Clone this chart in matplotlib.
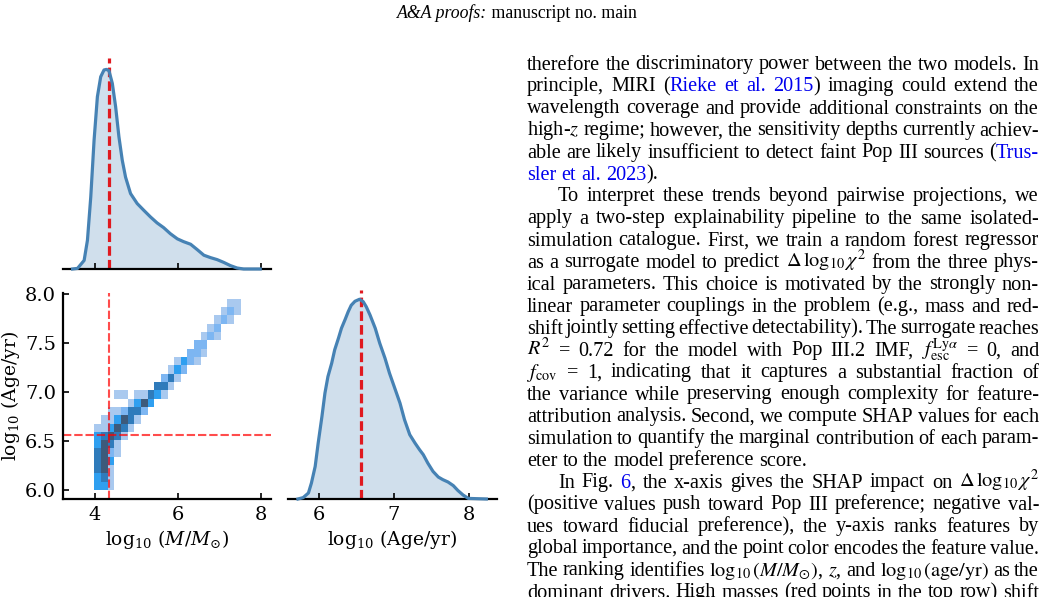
import matplotlib as mpl
import matplotlib.pyplot as plt
import numpy as np
from matplotlib.colors import ListedColormap, BoundaryNorm

plt.rcParams['font.family'] = 'DejaVu Serif'
plt.rcParams['mathtext.fontset'] = 'dejavuserif'

W, H = 1047, 597

# marginal KDE of log10(M/Msun), peak normalised
mass_x = [3.46, 3.58, 3.74, 3.82, 3.90, 3.98, 4.06, 4.14, 4.22, 4.28, 4.34, 4.42,
          4.50, 4.58, 4.66, 4.74, 4.86, 5.02, 5.18, 5.34, 5.50, 5.66, 5.82, 5.99,
          6.14, 6.31, 6.47, 6.63, 6.79, 6.95, 7.11, 7.27, 7.43, 7.59, 7.99]
mass_kde = [0.0, 0.003, 0.043, 0.144, 0.361, 0.645, 0.863, 0.963, 0.997, 1.0, 0.993, 0.930,
            0.813, 0.662, 0.545, 0.46, 0.378, 0.328, 0.294, 0.261, 0.231, 0.207, 0.177, 0.151,
            0.137, 0.124, 0.097, 0.069, 0.057, 0.047, 0.033, 0.017, 0.005, 0.0, 0.0]

# marginal KDE of log10(Age/yr)
age_x = [5.72, 5.79, 5.86, 5.90, 5.95, 5.99, 6.04, 6.08, 6.12, 6.17, 6.21, 6.26, 6.30, 6.35,
         6.39, 6.43, 6.48, 6.54, 6.59, 6.63, 6.68, 6.75, 6.81, 6.88, 6.94, 7.01, 7.08, 7.14,
         7.21, 7.28, 7.34, 7.39, 7.45, 7.52, 7.59, 7.65, 7.72, 7.79, 7.85, 7.92, 7.99, 8.23]
age_kde = [0.0, 0.007, 0.030, 0.080, 0.163, 0.280, 0.413, 0.530, 0.613, 0.680, 0.747, 0.805,
           0.855, 0.900, 0.938, 0.970, 0.990, 1.0, 0.988, 0.963, 0.922, 0.855, 0.780, 0.705,
           0.630, 0.555, 0.480, 0.397, 0.322, 0.280, 0.247, 0.222, 0.180, 0.138, 0.110, 0.097,
           0.085, 0.067, 0.043, 0.020, 0.003, 0.0]

mass_best = 4.33
age_best = 6.56

# 2D histogram, counts level per cell (rows top -> bottom, 22 mass bins)
mass_edges = np.linspace(3.99, 7.515, 23)
age_edges = np.linspace(6.0, 7.95, 24)
hist_rows = [
    "0000000000000000000011",
    "0000000000000000000121",
    "0000000000000000001210",
    "0000000000000000012000",
    "0000000000000000121000",
    "0000000000000002200000",
    "0000000000000022100000",
    "0000000000001321000000",
    "0000000000013200000000",
    "0000000000241000000000",
    "0000000004410000000000",
    "0001101143100000000000",
    "0000013530000000000000",
    "0011244200000000000000",
    "0113541000000000000000",
    "1135410000000000000000",
    "3454100000000000000000",
    "3541000000000000000000",
    "4521000000000000000000",
    "4530000000000000000000",
    "4510000000000000000000",
    "3410000000000000000000",
    "3310000000000000000000",
]
hist_colors = ['#a9c9ef', '#7db6f2', '#2f9ff0', '#2f7bbb', '#3d5a7b']

header_italic = "A&A proofs:"
header_plain = " manuscript no. main"

# body text, [..] marks linked (blue) text
body_lines = [
    "therefore the discriminatory power between the two models. In",
    "principle, MIRI ([Rieke et al. 2015]) imaging could extend the",
    "wavelength coverage and provide additional constraints on the",
    "high-$z$ regime; however, the sensitivity depths currently achiev-",
    "able are likely insufficient to detect faint Pop III sources ([Trus-",
    "sler et al. 2023]).",
    "To interpret these trends beyond pairwise projections, we",
    "apply a two-step explainability pipeline to the same isolated-",
    "simulation catalogue. First, we train a random forest regressor",
    r"as a surrogate model to predict $\Delta\,\log_{10}\chi^2$ from the three phys-",
    "ical parameters. This choice is motivated by the strongly non-",
    "linear parameter couplings in the problem (e.g., mass and red-",
    "shift jointly setting effective detectability). The surrogate reaches",
    r"$R^2$ = 0.72 for the model with Pop III.2 IMF, $f_{\mathrm{esc}}^{\mathrm{Ly}\alpha}$ = 0, and",
    r"$f_{\mathrm{cov}}$ = 1, indicating that it captures a substantial fraction of",
    "the variance while preserving enough complexity for feature-",
    "attribution analysis. Second, we compute SHAP values for each",
    "simulation to quantify the marginal contribution of each param-",
    "eter to the model preference score.",
    r"In Fig. [6], the x-axis gives the SHAP impact on $\Delta\,\log_{10}\chi^2$",
    "(positive values push toward Pop III preference; negative val-",
    "ues toward fiducial preference), the y-axis ranks features by",
    "global importance, and the point color encodes the feature value.",
    r"The ranking identifies $\log_{10}(M/M_{\odot})$, $z$, and $\log_{10}(\mathrm{age/yr})$ as the",
    "dominant drivers. High masses (red points in the top row) shift",
]
para_end = [5, 18]
para_start = [6, 19]

fig = plt.figure(figsize=(W / 100, H / 100), dpi=100)


def px_axes(l, t, r, b):
    return fig.add_axes([l / W, 1 - b / H, (r - l) / W, (b - t) / H])


kde_col = '#4682b4'
tick_kw = dict(direction='in', length=4, width=1.2, labelsize=14, pad=5)

# top marginal (mass)
ax_top = px_axes(63, 58, 271, 269)
ax_top.fill_between(mass_x, mass_kde, color=kde_col, alpha=0.25, lw=0)
ax_top.plot(mass_x, mass_kde, color=kde_col, lw=2.3, zorder=3, clip_on=False)
ax_top.axvline(mass_best, color='#e0191f', lw=2.3, ls=(0, (3, 1.3)))
ax_top.set_xlim(3.23, 8.25)
ax_top.set_ylim(0, 1.057)
ax_top.set_xticks([4, 6, 8])
ax_top.set_yticks([])
ax_top.tick_params(axis='x', labelbottom=False, **tick_kw)

# joint 2D histogram
ax_joint = px_axes(63, 293, 271, 499)
counts = np.array([[int(c) for c in row] for row in hist_rows[::-1]], dtype=float)
counts = np.ma.masked_equal(counts, 0)
cmap = ListedColormap(hist_colors)
norm = BoundaryNorm([0.5, 1.5, 2.5, 3.5, 4.5, 5.5], cmap.N)
ax_joint.pcolormesh(mass_edges, age_edges, counts, cmap=cmap, norm=norm)
ax_joint.axvline(mass_best, color='red', alpha=0.7, lw=1.5, ls=(0, (4, 1.4)))
ax_joint.axhline(age_best, color='red', alpha=0.7, lw=1.5, ls=(0, (4, 1.4)))
ax_joint.set_xlim(3.23, 8.25)
ax_joint.set_ylim(5.908, 8.01)
ax_joint.set_xticks([4, 6, 8])
ax_joint.set_yticks([6.0, 6.5, 7.0, 7.5, 8.0])
ax_joint.set_yticklabels(['6.0', '6.5', '7.0', '7.5', '8.0'])
ax_joint.tick_params(**tick_kw)
ax_joint.set_xlabel(r'$\log_{10}\,(M/M_{\odot})$', fontsize=13.5, labelpad=3)
ax_joint.set_ylabel(r'$\log_{10}\,(\mathrm{Age/yr})$', fontsize=13.5, labelpad=2)

# right marginal (age)
ax_age = px_axes(288, 290, 497, 499)
ax_age.fill_between(age_x, age_kde, color=kde_col, alpha=0.25, lw=0)
ax_age.plot(age_x, age_kde, color=kde_col, lw=2.3, zorder=3, clip_on=False)
ax_age.axvline(age_best, color='#e0191f', lw=2.3, ls=(0, (3, 1.3)))
ax_age.set_xlim(5.588, 8.372)
ax_age.set_ylim(0, 1.0465)
ax_age.set_xticks([6, 7, 8])
ax_age.set_yticks([])
ax_age.tick_params(axis='x', **tick_kw)
ax_age.set_xlabel(r'$\log_{10}\,(\mathrm{Age/yr})$', fontsize=13.5, labelpad=3)

for ax in (ax_top, ax_age):
    for s in ('left', 'right', 'top'):
        ax.spines[s].set_visible(False)
    ax.spines['bottom'].set_linewidth(1.6)
for s in ('right', 'top'):
    ax_joint.spines[s].set_visible(False)
for s in ('left', 'bottom'):
    ax_joint.spines[s].set_linewidth(1.6)

# ---- page text ----
renderer = fig.canvas.get_renderer()
FS = 14.6
BODY = dict(fontsize=FS, family='Liberation Serif', math_fontfamily='stix',
            va='baseline', ha='left')
LINK = '#0000ee'


def put(x, y, s, color='black', **kw):
    opts = dict(BODY)
    opts.update(kw)
    t = fig.text(x / W, 1 - y / H, s, color=color, **opts)
    return t, t.get_window_extent(renderer).width


def parse(line, blue):
    words = []
    for raw in line.split(' '):
        frags, cur = [], ''
        for ch in raw:
            if ch in '[]':
                if cur:
                    frags.append((cur, blue))
                cur = ''
                blue = ch == '['
            else:
                cur += ch
        if cur:
            frags.append((cur, blue))
        words.append(frags)
    return words, blue


# header
hs = 12.8
t1, w1 = put(0, 18, header_italic, style='italic', fontsize=hs)
t2, w2 = put(0, 18, header_plain, fontsize=hs)
hx = 517 - (w1 + w2) / 2
t1.set_x(hx / W)
t2.set_x((hx + w1) / W)

x0, x1 = 527, 1039
base0, pitch = 69.5, 22.0
indent = 31
space_nat = FS * 100 / 72 * 0.25
blue = False
for i, line in enumerate(body_lines):
    y = base0 + i * pitch
    words, blue = parse(line, blue)
    placed = []
    total = 0
    for frags in words:
        items = []
        ww = 0
        for s, b in frags:
            t, w = put(0, y, s, LINK if b else 'black')
            items.append((t, ww))
            ww += w
        placed.append((items, ww))
        total += ww
    start = x0 + (indent if i in para_start else 0)
    if i in para_end or len(placed) < 2:
        gap = space_nat
    else:
        gap = max((x1 - start - total) / (len(placed) - 1), 2.5)
    x = start
    for items, ww in placed:
        for t, off in items:
            t.set_x((x + off) / W)
        x += ww + gap

fig.savefig('out.png', dpi=100)
